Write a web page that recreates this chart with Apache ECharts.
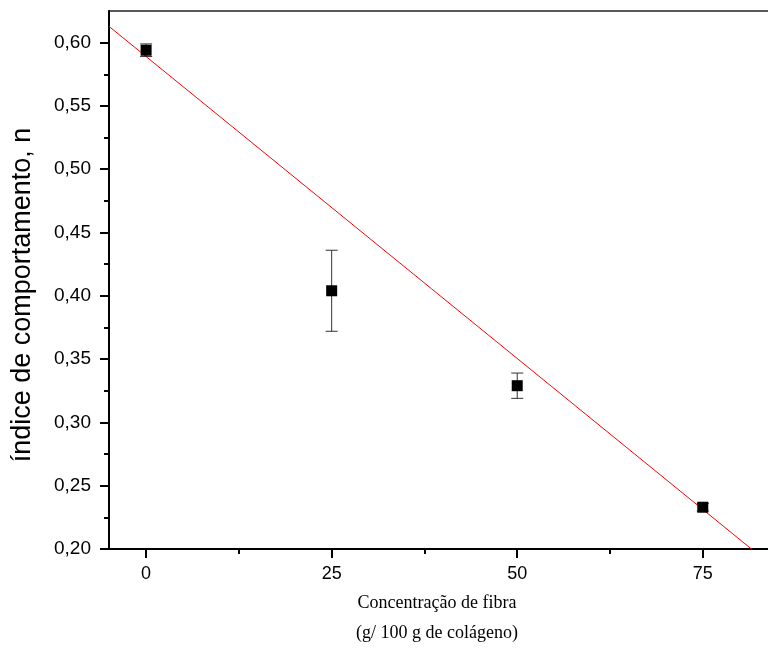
<!DOCTYPE html>
<html>
<head>
<meta charset="utf-8">
<script src="https://cdn.jsdelivr.net/npm/echarts@6/dist/echarts.min.js"></script>
<style>
  html, body { margin: 0; padding: 0; background: #fff; }
  #chart { width: 768px; height: 661px; }
</style>
</head>
<body>
<div id="chart"></div>
<script>
// dados
var concentracao = [0, 25, 50, 75];
var indiceN = [0.594, 0.404, 0.329, 0.233];
var desvio = [0.005, 0.032, 0.010, 0.003];
// ajuste linear (reta vermelha)
var fitIntercept = 0.589;
var fitSlope = -0.00477;
var xTicks = [0, 25, 50, 75];
var xMinorTicks = [12.5, 37.5, 62.5];
var yTicks = [0.20, 0.25, 0.30, 0.35, 0.40, 0.45, 0.50, 0.55, 0.60];
var yMinorTicks = [0.225, 0.275, 0.325, 0.375, 0.425, 0.475, 0.525, 0.575];

var xMin = -5, xMax = 85, yMin = 0.2, yMax = 0.625;

var myChart = echarts.init(document.getElementById('chart'));

var pontos = concentracao.map(function (x, i) { return [x, indiceN[i]]; });
var barras = concentracao.map(function (x, i) { return [x, indiceN[i] - desvio[i], indiceN[i] + desvio[i]]; });
var reta = [xMin, xMax].map(function (x) { return [x, fitIntercept + fitSlope * x]; });

function fmt(v) { return v.toFixed(2).replace('.', ','); }

var option = {
  animation: false,
  grid: {
    left: 109, top: 11, bottom: 112, width: 668,  // lado direito fica fora da imagem
    outerBoundsMode: 'none',
    show: true, borderColor: '#222', borderWidth: 1.5
  },
  xAxis: [{
    type: 'value', min: xMin, max: xMax,
    splitLine: { show: false },
    axisLine: { onZero: false, lineStyle: { color: '#000', width: 2 } },
    axisTick: { customValues: xTicks, length: 9, lineStyle: { color: '#000', width: 2 } },
    axisLabel: { customValues: xTicks, color: '#000', fontFamily: 'Liberation Sans', fontSize: 18, margin: 16 },
    name: 'Concentração de fibra\n(g/ 100 g de colágeno)',
    nameLocation: 'middle', nameGap: 38,
    nameTextStyle: { color: '#000', fontFamily: 'Liberation Serif', fontSize: 18, lineHeight: 30, padding: [0, 12, 0, 0] }
  }, {
    type: 'value', min: xMin, max: xMax, position: 'bottom',
    splitLine: { show: false },
    axisLine: { show: false },
    axisTick: { customValues: xMinorTicks, length: 5, lineStyle: { color: '#000', width: 2 } },
    axisLabel: { show: false }
  }],
  yAxis: [{
    type: 'value', min: yMin, max: yMax,
    splitLine: { show: false },
    axisLine: { onZero: false, lineStyle: { color: '#000', width: 2 } },
    axisTick: { customValues: yTicks, length: 9, lineStyle: { color: '#000', width: 2 } },
    axisLabel: { customValues: yTicks, formatter: fmt, color: '#000', fontFamily: 'Liberation Sans', fontSize: 19, margin: 18 },
    name: 'índice de comportamento, n',
    nameLocation: 'middle', nameGap: 73,
    nameTextStyle: { color: '#000', fontFamily: 'Liberation Sans', fontSize: 27, padding: [0, 30, 0, 0] }
  }, {
    type: 'value', min: yMin, max: yMax, position: 'left',
    splitLine: { show: false },
    axisLine: { show: false, onZero: false },
    axisTick: { customValues: yMinorTicks, length: 5, lineStyle: { color: '#000', width: 2 } },
    axisLabel: { show: false }
  }],
  series: [{
    type: 'line', data: reta, xAxisIndex: 0, yAxisIndex: 0,
    showSymbol: false, symbol: 'none', clip: true,
    lineStyle: { color: '#ff0000', width: 1 }, z: 2
  }, {
    type: 'custom', data: barras, xAxisIndex: 0, yAxisIndex: 0, z: 3,
    renderItem: function (params, api) {
      var x = api.value(0);
      var lo = api.coord([x, api.value(1)]);
      var hi = api.coord([x, api.value(2)]);
      var w = 6;
      var st = { stroke: '#333', lineWidth: 1 };
      return {
        type: 'group',
        children: [
          { type: 'line', shape: { x1: lo[0], y1: lo[1], x2: hi[0], y2: hi[1] }, style: st },
          { type: 'line', shape: { x1: lo[0] - w, y1: lo[1], x2: lo[0] + w, y2: lo[1] }, style: st },
          { type: 'line', shape: { x1: hi[0] - w, y1: hi[1], x2: hi[0] + w, y2: hi[1] }, style: st }
        ]
      };
    }
  }, {
    type: 'scatter', data: pontos, xAxisIndex: 0, yAxisIndex: 0,
    symbol: 'rect', symbolSize: 11, z: 4,
    itemStyle: { color: '#000', opacity: 1 }
  }]
};

myChart.setOption(option);
</script>
</body>
</html>
